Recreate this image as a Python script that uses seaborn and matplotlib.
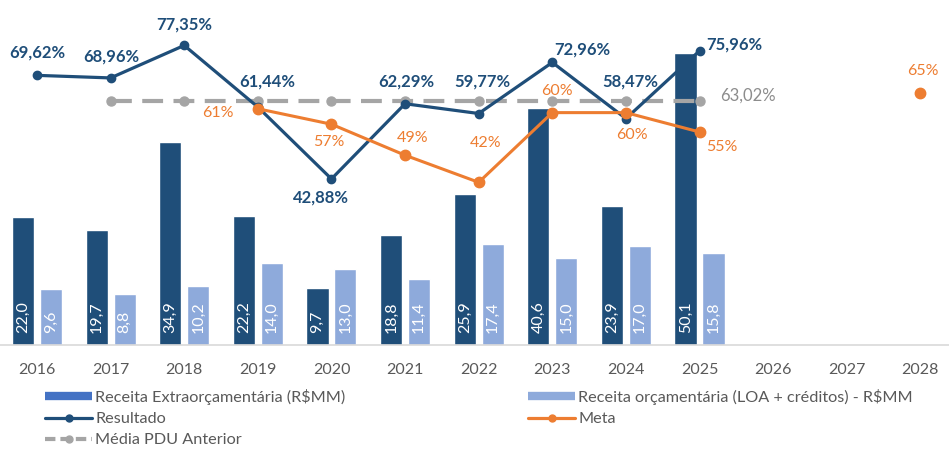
import numpy as np
import pandas as pd
import seaborn as sns
import matplotlib.pyplot as plt
from matplotlib.lines import Line2D

# dados
years = [str(y) for y in range(2016, 2029)]
bar_years = years[:10]
receita_extra = [22.0, 19.7, 34.9, 22.2, 9.7, 18.8, 25.9, 40.6, 23.9, 50.1]
receita_orc = [9.6, 8.8, 10.2, 14.0, 13.0, 11.4, 17.4, 15.0, 17.0, 15.8]
resultado = [69.62, 68.96, 77.35, 61.44, 42.88, 62.29, 59.77, 72.96, 58.47, 75.96]
meta = [np.nan, np.nan, np.nan, 61, 57, 49, 42, 60, 60, 55, np.nan, np.nan, 65]
media_pdu = [np.nan, 63.02, 63.02, 63.02, 63.02, 63.02, 63.02, 63.02, 63.02, 63.02]

lbl_extra = "Receita Extraorçamentária (R$MM)"
lbl_orc = "Receita orçamentária (LOA + créditos) - R$MM"

# offsets (px) dos rótulos
res_off = [(0, 23), (1, 21), (0, 21), (9, 26), (-10, -19), (1, 22), (4, 32), (30, 13), (4, 37), (35, 6)]
meta_off = {3: (-40, -4), 4: (-3, -18), 5: (8, 17), 6: (7, 39), 7: (5, 22), 8: (6, -22), 9: (22, -15), 12: (2, 22)}

DARK = "#1F4E79"
LIGHT = "#8EAADB"
ORANGE = "#ED7D31"
GRAY = "#A5A5A5"
TXT = "#595959"

sns.set_style("white")
plt.rcParams['font.family'] = ['Lato', 'DejaVu Sans']

df = pd.DataFrame({
    "ano": bar_years * 2,
    "serie": [lbl_extra] * 10 + [lbl_orc] * 10,
    "valor": receita_extra + receita_orc,
})

fig = plt.figure(figsize=(9.49, 4.49), dpi=100)
ax = fig.add_axes([0.0002, 104 / 449, 957 / 949, 345 / 449])

sns.barplot(data=df, x="ano", y="valor", hue="serie", order=years,
            hue_order=[lbl_extra, lbl_orc], palette=[DARK, LIGHT],
            width=0.76, gap=0.21, saturation=1, legend=False, ax=ax)

# rótulos dentro das barras
for cont in ax.containers:
    for bar in cont:
        h = bar.get_height()
        if np.isnan(h):
            continue
        ax.text(bar.get_x() + bar.get_width() / 2, 2.0, f"{h:.1f}".replace(".", ","),
                rotation=90, ha="center", va="bottom", color="white", fontsize=11.5)

ax.set_xlim(-0.5, len(years) - 0.5)
ax.set_ylim(0, 345 / 5.83)
ax.set_xlabel("")
ax.set_ylabel("")
ax.set_yticks([])
for s in ["top", "left", "right"]:
    ax.spines[s].set_visible(False)
ax.spines["bottom"].set_color("#D9D9D9")
ax.spines["bottom"].set_linewidth(1.2)
ax.tick_params(axis="x", length=0, colors=TXT, labelsize=11.5, pad=13)

ax2 = ax.twinx()
ax2.set_ylim(0, 345 / 3.873)
ax2.set_yticks([])
for s in ax2.spines.values():
    s.set_visible(False)

x = np.arange(len(years))
ax2.plot(x[:10], media_pdu, color=GRAY, lw=3, dashes=(5, 2.5), marker="o", ms=6.5,
         solid_capstyle="butt", dash_capstyle="butt")
ax2.plot(x[:10], resultado, color=DARK, lw=2.3, marker="o", ms=6)
ax2.plot(x, meta, color=ORANGE, lw=2.2, marker="o", ms=7.5)

for i, v in enumerate(resultado):
    dx, dy = res_off[i]
    ax2.annotate(f"{v:.2f}%".replace(".", ","), (x[i], v), xytext=(dx, dy),
                 textcoords="offset pixels", ha="center", va="center",
                 color=DARK, fontsize=12, fontweight="bold")

for i, (dx, dy) in meta_off.items():
    ax2.annotate(f"{meta[i]:.0f}%", (x[i], meta[i]), xytext=(dx, dy),
                 textcoords="offset pixels", ha="center", va="center",
                 color=ORANGE, fontsize=11.5)

ax2.annotate("63,02%", (x[9], media_pdu[9]), xytext=(21, 5), textcoords="offset pixels",
             ha="left", va="center", color="#8C8C8C", fontsize=12)

# legenda
h_extra = Line2D([], [], color="#4472C4", lw=6, solid_capstyle="butt")
h_orc = Line2D([], [], color=LIGHT, lw=6, solid_capstyle="butt")
h_res = Line2D([], [], color=DARK, lw=2.3, marker="o", ms=5, markevery=[1])
h_meta = Line2D([], [], color=ORANGE, lw=2.3, marker="o", ms=5, markevery=[1])
h_med = Line2D([], [], color=GRAY, lw=3, dashes=(2.5, 1.2), marker="o", ms=5, markevery=[1])
for h in (h_res, h_meta, h_med):
    h.set_data([0, 0.5, 1], [0, 0, 0])

leg_kw = dict(loc="upper left", frameon=False, fontsize=11.7, handlelength=2.9,
              handletextpad=0.2, labelspacing=0.42, borderpad=0, borderaxespad=0,
              labelcolor=TXT)
leg1 = fig.legend([h_extra, h_res, h_med], [lbl_extra, "Resultado", "Média PDU Anterior"],
                  bbox_to_anchor=(45 / 949, 1 - 389 / 449), **leg_kw)
leg2 = fig.legend([h_orc, h_meta], [lbl_orc, "Meta"],
                  bbox_to_anchor=(528 / 949, 1 - 389 / 449), **leg_kw)

fig.savefig("out.png", dpi=100)
